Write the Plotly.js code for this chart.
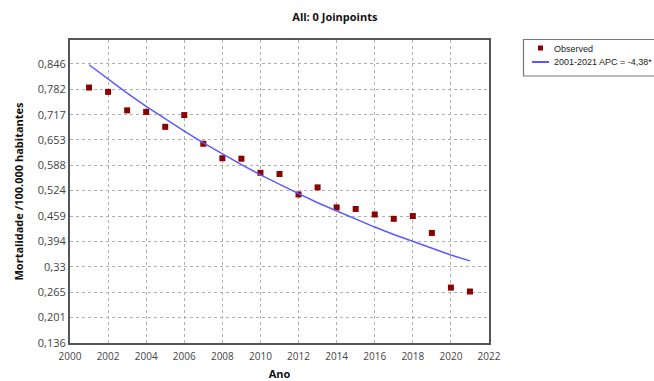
<!DOCTYPE html>
<html>
<head>
<meta charset="utf-8">
<script src="https://cdn.plot.ly/plotly-3.0.1.min.js"></script>
<style>html,body{margin:0;padding:0;background:#fff;overflow:hidden}#chart{width:654px;height:381px}</style>
</head>
<body>
<div id="chart"></div>
<script>
const years = [2001,2002,2003,2004,2005,2006,2007,2008,2009,2010,2011,2012,2013,2014,2015,2016,2017,2018,2019,2020,2021];
const observed = [0.786,0.775,0.728,0.724,0.686,0.716,0.643,0.606,0.605,0.569,0.566,0.514,0.532,0.481,0.477,0.463,0.452,0.459,0.416,0.277,0.267];
const modeled = [0.844,0.807,0.772,0.738,0.706,0.675,0.645,0.617,0.590,0.564,0.539,0.516,0.493,0.472,0.451,0.431,0.412,0.394,0.377,0.360,0.345];
const yTickVals = [0.136,0.201,0.265,0.33,0.394,0.459,0.524,0.588,0.653,0.717,0.782,0.846];
const yTickText = ["0,136","0,201","0,265","0,33","0,394","0,459","0,524","0,588","0,653","0,717","0,782","0,846"];
const xTickVals = [2000,2002,2004,2006,2008,2010,2012,2014,2016,2018,2020,2022];
const seriesNames = ["Observed","2001-2021 APC = -4,38*"];
const titleText = "All: 0 Joinpoints";
const xTitle = "Ano";
const yTitle = "Mortalidade /100.000 habitantes";

const font = "Open Sans, Liberation Sans, sans-serif";
const markerColor = "#8b0000", lineColor = "#5a5aff";
const traces = [
  {x: years, y: observed, name: seriesNames[0], type: "scatter", mode: "markers",
   marker: {symbol: "square", size: 6, color: markerColor}},
  {x: years, y: modeled, name: seriesNames[1], type: "scatter", mode: "lines",
   line: {color: lineColor, width: 1.5}}
];
// legend drawn manually in pixel positions -> paper coords
const L = 70, T = 40, W = 419, H = 303;
const px = v => (v - L) / W, py = v => (T + H - v) / H;
const legFont = {family: "Liberation Sans, Arial, sans-serif", size: 9, color: "#222"};
const layout = {
  width: 654, height: 381,
  margin: {l: 70, r: 165, t: 40, b: 38, autoexpand: false},
  paper_bgcolor: "#fff", plot_bgcolor: "#fff",
  font: {family: font, size: 11, color: "#333"},
  showlegend: false,
  title: {text: "<b>" + titleText + "</b>", x: 0.512, xref: "container", y: 0.955, yref: "container", yanchor: "middle",
          font: {family: font, size: 11, color: "#111"}},
  xaxis: {range: [2000, 2022], tickvals: xTickVals, ticks: "outside", ticklen: 3, tickcolor: "rgba(0,0,0,0)", showline: true, mirror: true,
          linecolor: "#555", linewidth: 2, showgrid: true, gridcolor: "#b0b0b0", griddash: "dot", zeroline: false,
          tickfont: {size: 10, color: "#444"},
          title: {text: "<b>" + xTitle + "</b>", standoff: 8, font: {size: 11, color: "#111"}}},
  yaxis: {range: [0.136, 0.907], tickvals: yTickVals, ticktext: yTickText, ticks: "", showline: true, mirror: true,
          linecolor: "#555", linewidth: 2, showgrid: true, gridcolor: "#b0b0b0", griddash: "dot", zeroline: false,
          tickfont: {size: 11, color: "#444"},
          title: {text: "<b>" + yTitle + "</b>", standoff: 12, font: {size: 11, color: "#111"}}},
  shapes: [
    {type: "rect", xref: "paper", yref: "paper", x0: px(523.5), x1: px(700), y0: py(39.5), y1: py(76), line: {color: "#777", width: 1.2}, fillcolor: "#fff"},
    {type: "rect", xref: "paper", yref: "paper", x0: px(538), x1: px(543), y0: py(45.5), y1: py(50.5), line: {width: 0}, fillcolor: markerColor},
    {type: "line", xref: "paper", yref: "paper", x0: px(532), x1: px(549), y0: py(62), y1: py(62), line: {color: "#2020ff", width: 1.5}}
  ],
  annotations: [
    {xref: "paper", yref: "paper", x: px(552), y: py(49), xanchor: "left", yanchor: "middle", showarrow: false, text: seriesNames[0], font: legFont},
    {xref: "paper", yref: "paper", x: px(552), y: py(62), xanchor: "left", yanchor: "middle", showarrow: false, text: seriesNames[1], font: legFont}
  ]
};
Plotly.newPlot("chart", traces, layout, {displayModeBar: false, staticPlot: true});
</script>
</body>
</html>
